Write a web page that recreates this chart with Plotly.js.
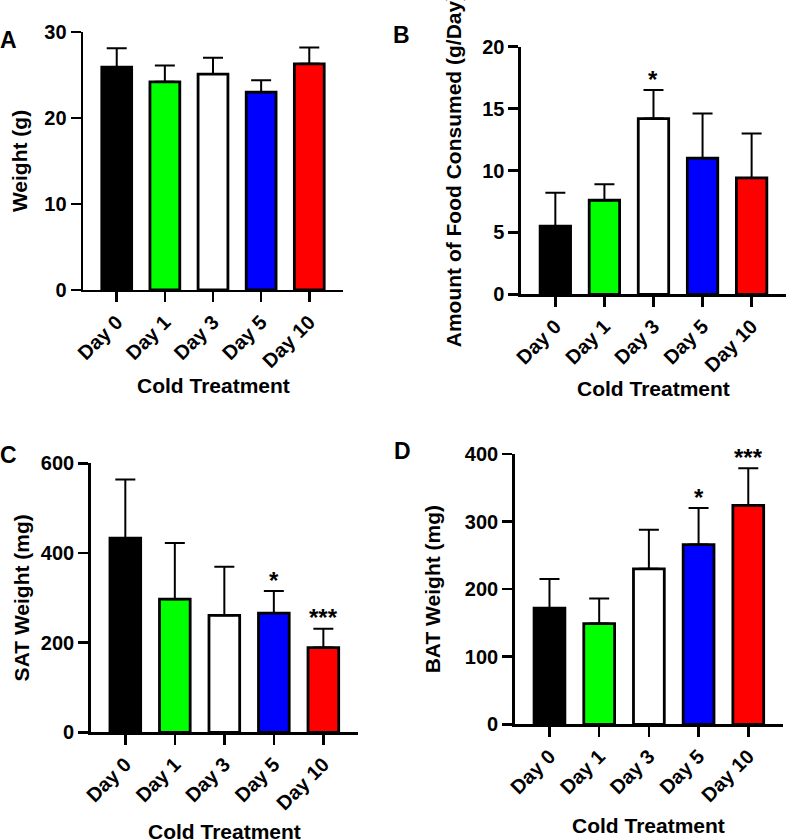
<!DOCTYPE html>
<html>
<head>
<meta charset="utf-8">
<script src="https://cdn.plot.ly/plotly-3.0.1.min.js"></script>
<style>
  html, body { margin: 0; padding: 0; background: #fff; }
  #chart { width: 787px; height: 839px; }
</style>
</head>
<body>
<div id="chart"></div>
<script>
const days = ['Day 0', 'Day 1', 'Day 3', 'Day 5', 'Day 10'];
const barColors = ['#000000', '#00ff00', '#ffffff', '#0000ff', '#ff0000'];
const xTitle = 'Cold Treatment';

// panel A: body weight
const weightMean = [25.9, 24.2, 25.1, 23.0, 26.3];
const weightSD = [2.2, 1.9, 1.9, 1.4, 1.9];

// panel B: food intake
const foodMean = [5.5, 7.6, 14.2, 11.0, 9.4];
const foodSD = [2.7, 1.3, 2.3, 3.6, 3.6];
const foodStars = ['', '', '*', '', ''];

// panel C: SAT
const satMean = [433, 297, 261, 266, 189];
const satSD = [131, 125, 108, 49, 42];
const satStars = ['', '', '', '*', '***'];

// panel D: BAT
const batMean = [172, 149, 230, 266, 324];
const batSD = [43, 37, 58, 54, 55];
const batStars = ['', '', '', '*', '***'];

const font = { family: 'Liberation Sans, Arial, sans-serif', color: '#000', weight: 700 };

function barTrace(mean, sd, n) {
    return {
        type: 'bar',
        x: days,
        y: mean,
        width: 0.62,
        xaxis: 'x' + n,
        yaxis: 'y' + n,
        marker: { color: barColors, line: { color: '#000', width: 2.8 } },
        error_y: {
            type: 'data', symmetric: false, array: sd, arrayminus: sd.map(() => 0),
            color: '#000', thickness: 2, width: 10
        },
        showlegend: false,
        hoverinfo: 'skip'
    };
}

function xAxis(dom, n) {
    return {
        domain: dom, anchor: 'y' + n, type: 'category', range: [-0.7, 4.7],
        showline: true, linewidth: 2.5, linecolor: '#000', mirror: false,
        ticks: 'outside', ticklen: 10, tickwidth: 2.5, tickcolor: '#000',
        tickangle: -45, tickfont: Object.assign({ size: 20 }, font),
        showgrid: false, zeroline: false, fixedrange: true
    };
}

function yAxis(dom, n, range, dtick, title, standoff) {
    return {
        domain: dom, anchor: 'x' + n, range: range, dtick: dtick,
        showline: true, linewidth: 2.5, linecolor: '#000',
        ticks: 'outside', ticklen: 10, tickwidth: 2.5, tickcolor: '#000',
        tickfont: Object.assign({ size: 20 }, font),
        showgrid: false, zeroline: false, fixedrange: true,
        title: { text: title, font: Object.assign({ size: 21 }, font), standoff: standoff }
    };
}

// x axis title drawn as a note so it can sit where the original has it
function xTitleNote(n, y) {
    return {
        xref: 'x' + n + ' domain', yref: 'paper', x: 0.5, y: y,
        xanchor: 'center', yanchor: 'middle', showarrow: false,
        text: xTitle, font: Object.assign({ size: 21 }, font)
    };
}

function starNotes(mean, sd, stars, n) {
    const out = [];
    stars.forEach((s, i) => {
        if (!s) return;
        out.push({
            xref: 'x' + n, yref: 'y' + n, x: days[i], y: mean[i] + sd[i],
            text: s, showarrow: false, yanchor: 'middle', yshift: 11,
            font: Object.assign({ size: 24 }, font)
        });
    });
    return out;
}

function letter(t, x, y) {
    return {
        xref: 'paper', yref: 'paper', x: x, y: y, xanchor: 'left', yanchor: 'top',
        text: t, showarrow: false, font: Object.assign({ size: 23 }, font)
    };
}

const data = [
    barTrace(weightMean, weightSD, ''),
    barTrace(foodMean, foodSD, '2'),
    barTrace(satMean, satSD, '3'),
    barTrace(batMean, batSD, '4')
];

const layout = {
    width: 787, height: 839,
    margin: { l: 0, r: 0, t: 0, b: 0 },
    paper_bgcolor: '#fff', plot_bgcolor: '#fff',
    font: font,
    xaxis: xAxis([0.1055, 0.4358], ''),
    yaxis: yAxis([0.6544, 0.9619], '', [0, 30], 10, 'Weight (g)', 11),
    xaxis2: xAxis([0.662, 0.9987], '2'),
    yaxis2: yAxis([0.6492, 0.9443], '2', [0, 20], 5, 'Amount of Food Consumed (g/Day)', 15),
    xaxis3: xAxis([0.1152, 0.4549], '3'),
    yaxis3: yAxis([0.1272, 0.4478], '3', [0, 600], 200, 'SAT Weight (mg)', 6),
    xaxis4: xAxis([0.654, 0.995], '4'),
    yaxis4: yAxis([0.1367, 0.4589], '4', [0, 400], 100, 'BAT Weight (mg)', 19),
    annotations: [].concat(
        starNotes(foodMean, foodSD, foodStars, '2'),
        starNotes(satMean, satSD, satStars, '3'),
        starNotes(batMean, batSD, batStars, '4'),
        [xTitleNote('', 0.5400), xTitleNote('2', 0.5364), xTitleNote('3', 0.0095), xTitleNote('4', 0.0155)],
        [letter('A', -0.003, 0.9702), letter('B', 0.4968, 0.9762),
         letter('C', -0.003, 0.4756), letter('D', 0.4981, 0.4803)]
    )
};

Plotly.newPlot('chart', data, layout, { displayModeBar: false, staticPlot: true });
</script>
</body>
</html>
